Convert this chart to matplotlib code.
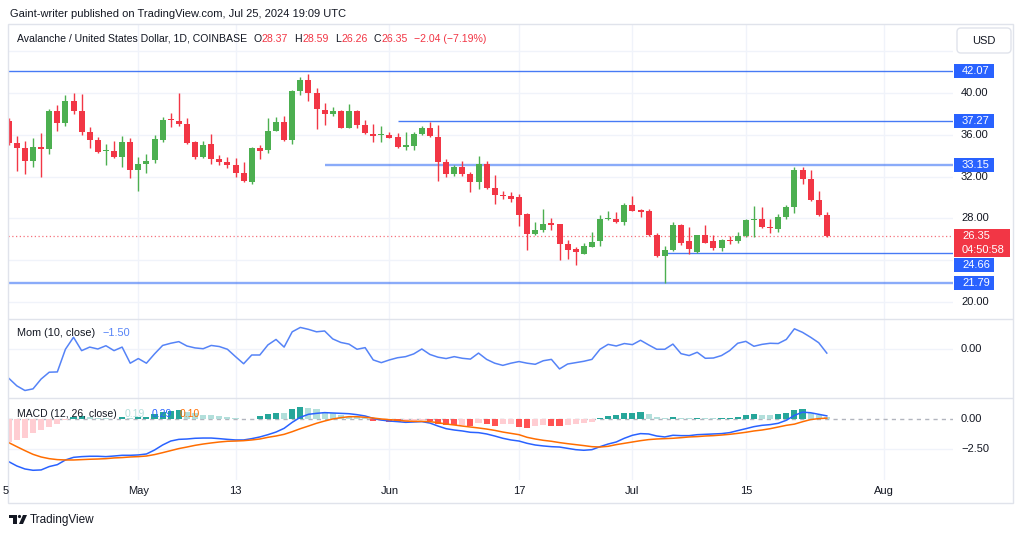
import matplotlib
matplotlib.use("Agg")
import matplotlib.pyplot as plt
from matplotlib.patches import Rectangle, FancyBboxPatch, Circle, Polygon
import numpy as np
import pandas as pd

plt.rcParams['font.family'] = ['Liberation Sans', 'DejaVu Sans']

# daily candles AVAX/USD, Apr 15 - Jul 25 2024
dates = pd.date_range('2024-04-15', '2024-07-25', freq='D')

opens = [37.35, 35.2, 34.7, 33.5, 34.8, 34.6, 38.3, 37.1, 39.2, 38.3,
         36.3, 35.5, 34.4, 34.4, 33.85, 35.3, 32.6, 33.2, 33.55, 35.5,
         37.45, 37.35, 37.05, 35.3, 33.9, 35.1, 33.7, 33.4, 33.1, 32.35,
         31.5, 34.7, 34.5, 36.4, 37.25, 35.5, 40.15, 41.2, 40.0, 38.4,
         38.0, 38.3, 36.65, 38.25, 36.95, 36.1, 35.95, 36.0, 35.75, 34.8,
         34.95, 36.05, 36.6, 35.8, 33.4, 32.25, 32.95, 32.25, 31.45, 33.2,
         30.95, 30.2, 30.17, 30.0, 28.4, 26.5, 26.85, 27.55, 27.45, 25.55,
         25.1, 24.6, 25.25, 25.8, 27.9, 27.9, 27.7, 29.3, 28.8, 28.7,
         26.4, 24.4, 25.0, 27.35, 25.8, 24.75, 26.4, 25.8, 25.2, 25.95,
         25.8, 26.3, 27.8, 27.95, 27.2, 27.0, 28.1, 29.05, 32.65, 31.8,
         29.8, 28.37]
highs = [37.6, 35.9, 35.4, 35.65, 36.2, 38.45, 38.85, 39.85, 40.0, 39.9,
         36.7, 35.8, 35.1, 35.4, 35.9, 35.7, 33.85, 34.15, 36.0, 37.7,
         38.1, 39.95, 37.6, 35.45, 35.45, 36.1, 34.1, 33.9, 33.8, 33.35,
         34.8, 35.05, 37.6, 37.7, 37.75, 40.3, 41.5, 41.85, 40.5, 39.05,
         38.7, 38.4, 38.95, 38.4, 37.4, 37.05, 36.8, 36.25, 36.15, 36.3,
         36.3, 36.85, 37.2, 36.9, 33.7, 33.1, 33.45, 32.45, 34.0, 33.45,
         32.15, 30.6, 30.5, 30.35, 28.5, 27.65, 28.9, 28.0, 27.5, 25.95,
         25.25, 25.65, 26.65, 28.35, 28.7, 28.65, 29.5, 30.1, 28.9, 28.85,
         26.6, 25.4, 27.65, 27.45, 27.2, 26.45, 27.4, 26.4, 26.05, 26.3,
         26.7, 27.95, 29.2, 29.05, 27.9, 28.4, 29.25, 32.95, 32.95, 32.65,
         30.6, 28.59]
lows = [35.0, 32.5, 32.2, 32.9, 31.95, 34.15, 36.4, 36.8, 38.0, 36.0,
        34.7, 34.25, 33.1, 33.8, 32.9, 31.85, 30.6, 32.35, 33.3, 35.3,
        36.75, 36.8, 35.15, 33.7, 33.8, 33.2, 33.1, 32.8, 31.95, 31.5,
        31.3, 33.7, 34.25, 36.35, 35.45, 35.15, 39.8, 39.25, 36.55, 36.9,
        37.75, 36.6, 36.6, 36.6, 36.1, 35.35, 35.3, 35.65, 34.75, 34.5,
        34.5, 35.95, 35.8, 31.55, 31.95, 32.05, 32.05, 30.5, 30.8, 30.85,
        29.35, 29.9, 29.6, 27.25, 25.0, 26.4, 26.7, 26.9, 24.0, 24.1,
        23.5, 24.55, 25.25, 25.35, 27.8, 27.55, 27.4, 28.7, 28.1, 26.3,
        24.3, 21.8, 24.85, 25.45, 24.6, 24.7, 25.6, 25.0, 24.85, 25.55,
        25.65, 26.25, 26.25, 27.05, 26.6, 26.7, 27.9, 28.5, 31.3, 29.7,
        28.25, 26.26]
closes = [35.2, 34.7, 33.5, 34.8, 34.6, 38.3, 37.1, 39.2, 38.25, 36.3,
          35.5, 34.35, 34.45, 33.85, 35.3, 32.6, 33.2, 33.5, 35.6, 37.45,
          37.4, 37.0, 35.25, 33.9, 35.0, 33.7, 33.4, 33.15, 32.35, 31.55,
          34.7, 34.4, 36.4, 37.25, 35.5, 40.15, 41.2, 40.0, 38.45, 38.0,
          38.3, 36.65, 38.25, 36.95, 36.15, 35.85, 36.05, 35.7, 34.8, 35.05,
          36.1, 36.6, 35.85, 33.4, 32.25, 32.95, 32.25, 31.5, 33.2, 30.9,
          30.2, 30.15, 29.9, 28.35, 26.5, 26.9, 27.5, 27.35, 25.5, 25.0,
          24.75, 25.4, 25.75, 27.9, 28.0, 27.7, 29.3, 28.75, 28.65, 26.4,
          24.4, 25.0, 27.4, 25.6, 25.1, 26.4, 25.65, 25.2, 25.95, 25.85,
          26.3, 27.8, 27.95, 27.15, 27.1, 28.15, 29.1, 32.65, 31.8, 29.8,
          28.35, 26.35]

# Mom (10, close)
mom = [-10.7, -13.5, -15.2, -14.6, -11.0, -8.5, -8.4, -0.1, 4.3, -0.6,
       0.7, 0.0, 1.2, -0.6, 0.7, -5.2, -3.5, -5.2, -1.8, 1.3,
       2.1, 2.7, 1.1, 0.4, 0.1, 1.3, 0.9, -0.1, -2.8, -5.4,
       -2.2, -2.2, 1.5, 3.5, 0.7, 6.3, 7.9, 7.2, 6.3, 6.6,
       3.7, 2.4, 1.8, -0.1, 0.5, -4.0, -5.0, -4.0, -3.2, -2.8,
       -1.8, 0.0, -2.0, -3.0, -3.5, -2.8, -3.4, -3.7, -1.5, -3.8,
       -5.2, -6.0, -5.2, -4.6, -5.2, -5.6, -4.3, -3.8, -7.3, -5.5,
       -5.0, -4.5, -3.8, -0.1, 1.7, 1.1, 2.0, 1.6, 3.2, 1.5,
       -0.1, -0.1, 1.8, -1.7, -2.4, -1.2, -3.4, -3.3, -2.4, -0.6,
       2.1, 2.8, 1.0, 1.7, 2.1, 2.0, 3.5, 7.4, 6.1, 4.3,
       2.3, -1.5]

# MACD (12, 26, close)
macd = [-3.53, -3.89, -4.14, -4.25, -4.22, -3.94, -3.78, -3.39, -3.17, -3.11,
        -3.08, -3.08, -3.11, -3.06, -3.0, -3.0, -2.97, -2.89, -2.56, -2.14,
        -1.81, -1.67, -1.64, -1.58, -1.56, -1.56, -1.61, -1.67, -1.72, -1.72,
        -1.61, -1.47, -1.28, -1.06, -0.75, -0.25, 0.17, 0.42, 0.5, 0.56,
        0.53, 0.5, 0.47, 0.39, 0.28, 0.08, -0.06, -0.14, -0.19, -0.25,
        -0.22, -0.19, -0.31, -0.56, -0.78, -0.89, -0.97, -1.08, -1.11, -1.22,
        -1.39, -1.58, -1.72, -1.81, -2.0, -2.14, -2.22, -2.28, -2.31, -2.42,
        -2.53, -2.58, -2.53, -2.28, -2.06, -1.89, -1.58, -1.33, -1.19, -1.22,
        -1.39, -1.47, -1.33, -1.36, -1.36, -1.28, -1.25, -1.22, -1.19, -1.11,
        -0.94, -0.78, -0.61, -0.5, -0.44, -0.33, -0.08, 0.33, 0.6, 0.55,
        0.42, 0.29]
signal = [-1.94, -2.28, -2.61, -2.92, -3.14, -3.28, -3.36, -3.39, -3.39, -3.36,
          -3.33, -3.31, -3.28, -3.22, -3.19, -3.14, -3.11, -3.06, -2.94, -2.78,
          -2.61, -2.44, -2.31, -2.17, -2.06, -1.97, -1.89, -1.83, -1.81, -1.78,
          -1.72, -1.64, -1.5, -1.39, -1.25, -1.03, -0.78, -0.56, -0.33, -0.14,
          0.03, 0.14, 0.22, 0.22, 0.17, 0.11, 0.03, -0.03, -0.08, -0.14,
          -0.17, -0.17, -0.19, -0.28, -0.39, -0.47, -0.56, -0.64, -0.72, -0.81,
          -0.92, -1.06, -1.17, -1.28, -1.5, -1.64, -1.75, -1.83, -1.94, -2.03,
          -2.11, -2.19, -2.28, -2.31, -2.25, -2.11, -2.0, -1.89, -1.78, -1.69,
          -1.64, -1.61, -1.58, -1.53, -1.47, -1.44, -1.39, -1.36, -1.31, -1.25,
          -1.17, -1.08, -0.97, -0.89, -0.78, -0.64, -0.5, -0.4, -0.2, -0.02,
          0.06, 0.10]
hist = [-1.9, -1.72, -1.58, -1.17, -0.89, -0.6, -0.39, -0.02, 0.22, 0.28,
        0.17, 0.11, 0.08, 0.06, 0.22, 0.11, 0.17, 0.22, 0.44, 0.61,
        0.69, 0.78, 0.65, 0.5, 0.39, 0.33, 0.28, 0.22, 0.14, 0.06,
        0.05, 0.28, 0.44, 0.56, 0.5, 0.86, 1.0, 0.97, 0.83, 0.64,
        0.5, 0.33, 0.22, 0.17, 0.08, -0.14, -0.11, -0.19, -0.25, -0.2,
        -0.1, -0.08, -0.12, -0.39, -0.47, -0.5, -0.5, -0.52, -0.33, -0.39,
        -0.53, -0.39, -0.36, -0.61, -0.69, -0.56, -0.47, -0.53, -0.56, -0.5,
        -0.39, -0.33, -0.22, 0.08, 0.28, 0.33, 0.5, 0.56, 0.61, 0.44,
        0.17, 0.11, 0.22, 0.11, 0.10, 0.14, 0.11, 0.10, 0.14, 0.15,
        0.22, 0.36, 0.44, 0.36, 0.35, 0.42, 0.5, 0.78, 0.83, 0.56,
        0.36, 0.19]

# horizontal levels drawn on the chart and the bar they start from
levels = [42.07, 37.27, 33.15, 24.66, 21.79]
level_start = ['2024-04-14', '2024-06-02', '2024-05-24', '2024-07-05', '2024-04-14']
last_price = 26.35
countdown = '04:50:58'

tick_dates = ['2024-05-01', '2024-05-13', '2024-06-01', '2024-06-17',
              '2024-07-01', '2024-07-15', '2024-08-01']
tick_labels = ['May', '13', 'Jun', '17', 'Jul', '15', 'Aug']
price_ticks = [20, 28, 32, 36, 40]
price_grid = [20, 24, 28, 32, 36, 40, 44]

TXT = '#131722'
GRID = '#F0F3FA'
BORDER = '#E0E3EB'
UP, DOWN = '#4CAF50', '#F23645'
BLUE = '#2962FF'

x = np.arange(len(dates))
o, h, l, c = map(np.array, (opens, highs, lows, closes))


def day(s):
    return (pd.Timestamp(s) - dates[0]).days


W, H = 1024, 536
fig = plt.figure(figsize=(W / 100, H / 100), dpi=100)
fig.patch.set_facecolor('white')

LEFT, RIGHT = 8, 953


def rect(y0, y1):
    return [LEFT / W, 1 - y1 / H, (RIGHT - LEFT) / W, (y1 - y0) / H]


ax_p = fig.add_axes(rect(24, 319))
ax_m = fig.add_axes(rect(319, 398))
ax_d = fig.add_axes(rect(398, 480))
for ax in (ax_p, ax_m, ax_d):
    ax.set_xlim(-0.09, 116.58)
    ax.axis('off')
    for d in tick_dates:
        ax.axvline(day(d), color=GRID, lw=1, zorder=0)
ax_p.set_ylim(18.37, 46.60)
ax_m.set_ylim(-17.95, 10.99)
ax_d.set_ylim(-5.06, 1.78)

# price pane
for p in price_grid:
    ax_p.axhline(p, color=GRID, lw=1, zorder=0)
cols = np.where(c >= o, UP, DOWN)
ax_p.vlines(x, l, h, colors=cols, lw=1, zorder=2)
body = np.maximum(np.abs(c - o), 0.1)
ax_p.bar(x, body, bottom=np.minimum(o, c), width=0.74, color=cols, lw=0, zorder=3)
for lv, st in zip(levels, level_start):
    thick = lv in (33.15, 21.79)
    ax_p.hlines(lv, day(st), 116.58, color='#3D73F5', lw=1.7 if thick else 1.0,
                alpha=0.6 if thick else 0.95, zorder=1)
ax_p.axhline(last_price, color=DOWN, ls=(0, (1, 2)), lw=0.9, alpha=0.7, zorder=1)

# momentum pane
ax_m.axhline(0, color=GRID, lw=1, zorder=0)
ax_m.plot(x, mom, color='#5583F7', lw=1.1)

# macd pane
ax_d.axhline(-2.5, color=GRID, lw=1, zorder=0)
ax_d.axhline(0, color='#B2B5BE', ls=(0, (3, 3)), lw=1, zorder=1)
hcols = []
for i, v in enumerate(hist):
    prev = hist[i - 1] if i > 0 else v - 1
    if v >= 0:
        hcols.append('#26A69A' if v > prev else '#B2DFDB')
    else:
        hcols.append('#FF5252' if v < prev else '#FFCDD2')
ax_d.bar(x, hist, width=0.75, color=hcols, lw=0, zorder=2)
ax_d.plot(x, macd, color=BLUE, lw=1.1, zorder=3)
ax_d.plot(x, signal, color='#FF6D00', lw=1.1, zorder=3)

# overlay in pixel coordinates for frame, labels and legends
ov = fig.add_axes([0, 0, 1, 1])
ov.set_xlim(0, W)
ov.set_ylim(H, 0)
ov.axis('off')
ov.patch.set_alpha(0)
renderer = fig.canvas.get_renderer()


def ypix(ax, v):
    return H - ax.transData.transform((0, v))[1]


def xpix(v):
    return ax_d.transData.transform((v, 0))[0]


def row(x0, y, parts, fs):
    # write coloured pieces one after another: (text, colour, gap after)
    for t, col, gap in parts:
        tx = ov.text(x0, y, t, fontsize=fs, color=col, va='center')
        x0 += tx.get_window_extent(renderer).width + gap


ov.add_patch(Rectangle((8, 24), 1005, 479, fill=False, ec=BORDER, lw=1))
ov.hlines([319, 398], 8, 1013, color=BORDER, lw=1)

fs = 8
for p in price_ticks:
    ov.text(961, ypix(ax_p, p), f'{p:.2f}', fontsize=fs, color=TXT, va='center')
label_shift = {24.66: 12}
for lv in levels:
    yy = ypix(ax_p, lv) + label_shift.get(lv, 0)
    ov.add_patch(Rectangle((954, yy - 7), 40, 14, color=BLUE, lw=0))
    ov.text(962, yy, f'{lv:.2f}', fontsize=fs, color='white', va='center')
yy = ypix(ax_p, last_price)
ov.add_patch(Rectangle((954, yy - 7), 56, 28, color=DOWN, lw=0))
ov.text(962, yy, f'{last_price:.2f}', fontsize=fs, color='white', va='center')
ov.text(962, yy + 14, countdown, fontsize=fs, color='white', va='center')

ov.add_patch(FancyBboxPatch((957, 28), 54, 25, boxstyle='round,pad=0,rounding_size=4',
                            fc='white', ec=BORDER, lw=1))
ov.text(984, 41, 'USD', fontsize=fs, color=TXT, ha='center', va='center')

ov.text(961, ypix(ax_m, 0), '0.00', fontsize=fs, color=TXT, va='center')
ov.text(961, ypix(ax_d, 0), '0.00', fontsize=fs, color=TXT, va='center')
ov.text(961, ypix(ax_d, -2.5), '\u22122.50', fontsize=fs, color=TXT, va='center')

for d, t in zip(tick_dates, tick_labels):
    ov.text(xpix(day(d)), 491, t, fontsize=fs, color=TXT, ha='center', va='center')
ov.text(5.5, 491, '5', fontsize=fs, color=TXT, ha='center', va='center')

# legends
ov.text(10, 14, 'Gaint-writer published on TradingView.com, Jul 25, 2024 19:09 UTC',
        fontsize=fs, color=TXT, va='center')
row(17, 38.5, [('Avalanche / United States Dollar, 1D, COINBASE', TXT, 6),
               ('O', TXT, 0.5), ('28.37', DOWN, 6), ('H', TXT, 0.5), ('28.59', DOWN, 6),
               ('L', TXT, 0.5), ('26.26', DOWN, 6), ('C', TXT, 0.5), ('26.35', DOWN, 6),
               ('\u22122.04 (\u22127.19%)', DOWN, 0)], 7.6)
row(17, 333, [('Mom (10, close)', TXT, 7), ('\u22121.50', '#5583F7', 0)], 7.8)
row(17, 414, [('MACD (12, 26, close)', TXT, 8), ('0.19', '#B2DFDB', 7),
              ('0.29', BLUE, 7), ('0.10', '#FF6D00', 0)], 7.5)

# TradingView logo
ov.add_patch(Rectangle((9, 515), 8, 3, color=TXT, lw=0))
ov.add_patch(Rectangle((13, 515), 4, 9, color=TXT, lw=0))
ov.add_patch(Circle((19.5, 516.5), 1.6, color=TXT, lw=0))
ov.add_patch(Polygon([(23, 515), (27, 515), (23, 524), (19, 524)], closed=True, color=TXT, lw=0))
ov.text(30, 519.5, 'TradingView', fontsize=8.5, color=TXT, va='center')

fig.savefig('out.png', dpi=100, facecolor='white')
